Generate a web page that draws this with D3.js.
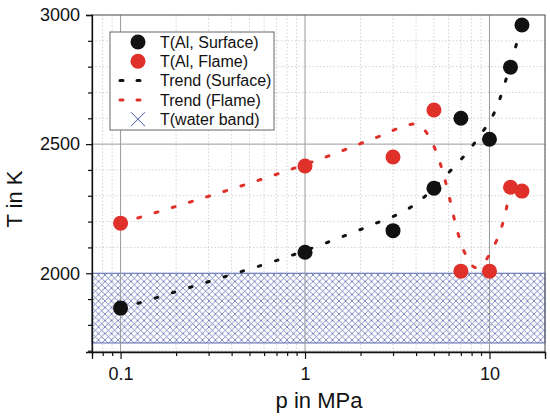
<!DOCTYPE html>
<html>
<head>
<meta charset="utf-8">
<script src="https://cdn.jsdelivr.net/npm/d3@7"></script>
<style>
    body { margin: 0; background: #fff; }
    text { font-family: "Liberation Sans", Arial, Helvetica, sans-serif; fill: #111; }
    .minorGrid { stroke: #c8c8c8; stroke-width: 0.8; stroke-dasharray: 1.5,2; }
    .majorGrid { stroke: #9a9a9a; stroke-width: 1; }
</style>
</head>
<body>
<script>
//measured points, pressure in MPa and temperature in K
var surfP = [0.1, 1, 3, 5, 7, 10, 13, 15];
var surfT = [1865, 2081, 2165, 2329, 2600, 2519, 2798, 2961];
var flameP = [0.1, 1, 3, 5, 7, 10, 13, 15];
var flameT = [2194, 2415, 2450, 2632, 2008, 2008, 2333, 2318];

//trend curves
var surfTrendP = [0.1, 0.125, 0.194, 0.372, 0.705, 1.33, 2.59, 3.2, 3.9, 5.9, 8.5, 11, 13.5, 15];
var surfTrendT = [1865, 1884, 1926, 1988, 2050, 2120, 2202, 2229, 2264, 2384, 2515, 2647, 2849, 2960];
var flameTrendP = [0.1, 0.157, 0.705, 1.33, 2.55, 3.96, 4.72, 5.2, 5.9, 6.53, 6.95, 7.6, 8.4, 9.27, 10.5, 11.5, 12.2, 13];
var flameTrendT = [2194, 2236, 2384, 2453, 2531, 2578, 2527, 2461, 2329, 2194, 2124, 2058, 2022, 2039, 2101, 2167, 2233, 2333];

//water band range
var bandT = [1730, 2000];

//axis ticks
var xMajor = [0.1, 1, 10];
var xMinor = [0.07, 0.08, 0.09, 0.2, 0.3, 0.4, 0.5, 0.6, 0.7, 0.8, 0.9, 2, 3, 4, 5, 6, 7, 8, 9, 20];
var yMajor = [2000, 2500, 3000];
var yMinor = [1700, 1800, 1900, 2100, 2200, 2300, 2400, 2600, 2700, 2800, 2900];

var legendLabels = ["T(Al, Surface)", "T(Al, Flame)", "Trend (Surface)", "Trend (Flame)", "T(water band)"];

var width = 550,
    height = 420;
var margin = {left: 92, top: 15, right: 5, bottom: 68};
var w = width - margin.left - margin.right,
    h = height - margin.top - margin.bottom;

var svg = d3.select("body")
    .append("svg")
    .attr("width", width)
    .attr("height", height);

var x = d3.scaleLog().domain([0.07, 20]).range([0, w]);
var y = d3.scaleLinear().domain([1695, 3000]).range([h, 0]);

var g = svg.append("g")
    .attr("transform", "translate(" + margin.left + "," + margin.top + ")");

//hatch pattern for the water band
var defs = svg.append("defs");
var pat = defs.append("pattern")
    .attr("id", "hatch")
    .attr("patternUnits", "userSpaceOnUse")
    .attr("width", 6.5)
    .attr("height", 6.5);
pat.append("path")
    .attr("d", "M0,0L6.5,6.5M6.5,0L0,6.5")
    .attr("stroke", "#5866b2")
    .attr("stroke-width", 0.75);

//minor grid
g.selectAll(".minorGridX")
    .data(xMinor)
    .enter()
    .append("line")
    .attr("class", "minorGrid")
    .attr("x1", function(d){ return x(d); })
    .attr("x2", function(d){ return x(d); })
    .attr("y1", 0)
    .attr("y2", h);
g.selectAll(".minorGridY")
    .data(yMinor)
    .enter()
    .append("line")
    .attr("class", "minorGrid")
    .attr("x1", 0)
    .attr("x2", w)
    .attr("y1", function(d){ return y(d); })
    .attr("y2", function(d){ return y(d); });

//water band
g.append("rect")
    .attr("x", 0)
    .attr("y", y(bandT[1]))
    .attr("width", w)
    .attr("height", y(bandT[0]) - y(bandT[1]))
    .attr("fill", "url(#hatch)")
    .attr("stroke", "#5565b0")
    .attr("stroke-width", 1);

//major grid
g.selectAll(".majorGridX")
    .data(xMajor)
    .enter()
    .append("line")
    .attr("class", "majorGrid")
    .attr("x1", function(d){ return x(d); })
    .attr("x2", function(d){ return x(d); })
    .attr("y1", 0)
    .attr("y2", h);
g.append("line")
    .attr("class", "majorGrid")
    .attr("x1", 0)
    .attr("x2", w)
    .attr("y1", y(2500))
    .attr("y2", y(2500));

//frame
g.append("rect")
    .attr("width", w)
    .attr("height", h)
    .attr("fill", "none")
    .attr("stroke", "#666")
    .attr("stroke-width", 1.2);

//trend lines
var line = d3.line()
    .x(function(d){ return x(d[0]); })
    .y(function(d){ return y(d[1]); })
    .curve(d3.curveMonotoneX);

g.append("path")
    .datum(d3.zip(surfTrendP, surfTrendT))
    .attr("d", line)
    .attr("fill", "none")
    .attr("stroke", "#111")
    .attr("stroke-width", 3)
    .attr("stroke-linecap", "round")
    .attr("stroke-dasharray", "2.5,15.5");

g.append("path")
    .datum(d3.zip(flameTrendP, flameTrendT))
    .attr("d", line)
    .attr("fill", "none")
    .attr("stroke", "#e0302a")
    .attr("stroke-width", 3)
    .attr("stroke-linecap", "round")
    .attr("stroke-dasharray", "3,15");

//points
g.selectAll(".surf")
    .data(d3.zip(surfP, surfT))
    .enter()
    .append("circle")
    .attr("cx", function(d){ return x(d[0]); })
    .attr("cy", function(d){ return y(d[1]); })
    .attr("r", 7.5)
    .attr("fill", "#111");

g.selectAll(".flame")
    .data(d3.zip(flameP, flameT))
    .enter()
    .append("circle")
    .attr("cx", function(d){ return x(d[0]); })
    .attr("cy", function(d){ return y(d[1]); })
    .attr("r", 7.5)
    .attr("fill", "#e0302a");

//axes
var fmt = function(d){ return d >= 1 ? d3.format("d")(d) : d3.format(".1f")(d); };
var xAxis = g.append("g")
    .attr("transform", "translate(0," + h + ")")
    .call(d3.axisBottom(x).tickValues(xMajor).tickFormat(fmt).tickSize(7).tickPadding(8));
var xAxisMinor = g.append("g")
    .attr("transform", "translate(0," + h + ")")
    .call(d3.axisBottom(x).tickValues(xMinor).tickFormat("").tickSize(4));
var yAxis = g.append("g")
    .call(d3.axisLeft(y).tickValues(yMajor).tickFormat(d3.format("d")).tickSize(6).tickPadding(6));
var yAxisMinor = g.append("g")
    .call(d3.axisLeft(y).tickValues(yMinor).tickFormat("").tickSize(4));

[xAxis, xAxisMinor, yAxis, yAxisMinor].forEach(function(a){
    a.select(".domain").attr("stroke", "#111").attr("stroke-width", 1.3);
    a.selectAll(".tick line").attr("stroke", "#111").attr("stroke-width", 1.2);
    a.selectAll("text").attr("font-size", 18).attr("fill", "#111")
        .style("font-family", "'Liberation Sans', Arial, sans-serif");
});
xAxisMinor.select(".domain").remove();
yAxisMinor.select(".domain").remove();

//axis titles
svg.append("text")
    .attr("transform", "translate(22,199) rotate(-90)")
    .attr("text-anchor", "middle")
    .attr("font-size", 22)
    .text("T in K");
svg.append("text")
    .attr("x", 319)
    .attr("y", 408)
    .attr("text-anchor", "middle")
    .attr("font-size", 22)
    .text("p in MPa");

//legend
var legend = svg.append("g");
legend.append("rect")
    .attr("x", 110)
    .attr("y", 32)
    .attr("width", 164)
    .attr("height", 98)
    .attr("fill", "#fff")
    .attr("stroke", "#666")
    .attr("stroke-width", 1);

var rowY = function(i){ return 42 + i * 19.3; };
legend.append("circle").attr("cx", 138).attr("cy", rowY(0)).attr("r", 7.5).attr("fill", "#111");
legend.append("circle").attr("cx", 138).attr("cy", rowY(1)).attr("r", 7.5).attr("fill", "#e0302a");
legend.append("line")
    .attr("x1", 120).attr("x2", 142).attr("y1", rowY(2)).attr("y2", rowY(2))
    .attr("stroke", "#111").attr("stroke-width", 3)
    .attr("stroke-linecap", "round").attr("stroke-dasharray", "3,14");
legend.append("line")
    .attr("x1", 120).attr("x2", 142).attr("y1", rowY(3)).attr("y2", rowY(3))
    .attr("stroke", "#e0302a").attr("stroke-width", 3)
    .attr("stroke-linecap", "round").attr("stroke-dasharray", "3,14");
legend.append("path")
    .attr("d", "M131," + (rowY(4) - 7) + "L145," + (rowY(4) + 7) + "M145," + (rowY(4) - 7) + "L131," + (rowY(4) + 7))
    .attr("stroke", "#4a58a6")
    .attr("stroke-width", 1);

legend.selectAll(".legendText")
    .data(legendLabels)
    .enter()
    .append("text")
    .attr("x", 160)
    .attr("y", function(d, i){ return rowY(i); })
    .attr("dy", "0.35em")
    .attr("font-size", 16)
    .text(function(d){ return d; });
</script>
</body>
</html>
